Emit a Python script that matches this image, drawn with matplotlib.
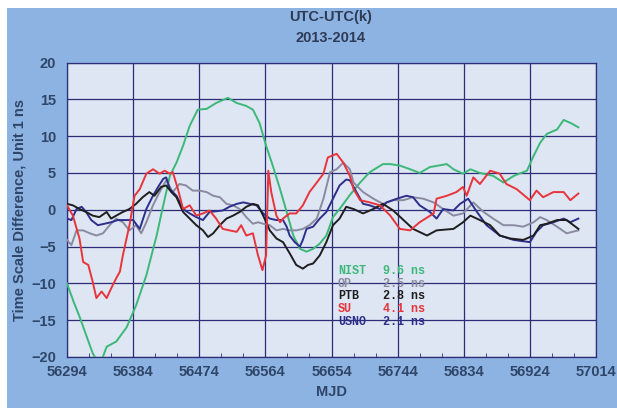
import matplotlib.pyplot as plt
from matplotlib.patches import Rectangle

plt.rcParams['font.family'] = ['Liberation Sans', 'DejaVu Sans']

# data (MJD, ns)
nist_mjd = [56294, 56303, 56311, 56320, 56329, 56335, 56342, 56348, 56361, 56375,
            56388, 56402, 56416, 56425, 56434, 56443, 56452, 56461, 56472, 56484,
            56497, 56513, 56525, 56538, 56547, 56556, 56565, 56574, 56584, 56593,
            56602, 56611, 56620, 56629, 56638, 56647, 56656, 56665, 56679, 56693,
            56706, 56724, 56734, 56747, 56761, 56774, 56788, 56811, 56820, 56833,
            56843, 56856, 56874, 56888, 56902, 56920, 56929, 56938, 56947, 56961,
            56970, 56979, 56990]
nist_val = [-10.0, -12.5, -14.5, -17.0, -19.5, -20.5, -20.2, -18.6, -17.9, -16.0,
            -13.0, -8.9, -3.5, 0.6, 4.6, 6.4, 8.7, 11.4, 13.6, 13.7,
            14.5, 15.2, 14.5, 14.1, 13.6, 11.8, 8.7, 6.0, 2.8, -0.3,
            -3.5, -5.3, -5.7, -5.3, -4.6, -3.5, -1.0, 0.1, 2.0, 3.7,
            5.1, 6.2, 6.2, 6.0, 5.5, 5.0, 5.8, 6.2, 5.5, 4.9,
            5.5, 5.0, 4.6, 3.7, 4.6, 5.3, 7.3, 9.1, 10.3, 10.9,
            12.2, 11.8, 11.2]

op_mjd = [56294, 56300, 56307, 56316, 56325, 56334, 56343, 56352, 56361, 56370,
          56379, 56388, 56395, 56402, 56411, 56420, 56429, 56438, 56447, 56456,
          56465, 56474, 56484, 56493, 56502, 56511, 56520, 56529, 56538, 56547,
          56554, 56561, 56570, 56579, 56588, 56597, 56606, 56615, 56624, 56634,
          56643, 56652, 56661, 56670, 56679, 56684, 56697, 56711, 56724, 56738,
          56752, 56765, 56779, 56793, 56806, 56820, 56833, 56847, 56861, 56874,
          56888, 56902, 56915, 56929, 56938, 56947, 56961, 56974, 56990]
op_val = [-4.1, -4.8, -2.8, -2.8, -3.2, -3.5, -3.2, -2.1, -1.2, -1.7,
          -2.8, -2.1, -3.2, -1.7, 0.6, 2.4, 4.0, 2.4, 3.5, 3.3,
          2.6, 2.6, 2.4, 1.9, 1.7, 0.8, 0.6, 0.1, -1.0, -1.9,
          -1.7, -1.9, -2.1, -2.8, -2.6, -2.8, -2.8, -2.6, -2.1, -1.2,
          1.5, 5.1, 5.5, 6.4, 5.5, 3.7, 2.4, 1.5, 0.8, 1.3,
          1.3, 1.7, 1.5, 1.0, 0.1, -0.8, -0.5, 1.0, -0.3, -1.2,
          -2.1, -2.1, -2.3, -1.7, -1.0, -1.4, -2.3, -3.2, -2.8]

ptb_mjd = [56294, 56302, 56311, 56320, 56329, 56338, 56348, 56354, 56361, 56370,
           56379, 56388, 56397, 56406, 56413, 56422, 56429, 56436, 56443, 56452,
           56461, 56470, 56479, 56486, 56493, 56502, 56511, 56520, 56529, 56538,
           56547, 56554, 56561, 56570, 56579, 56588, 56597, 56606, 56615, 56622,
           56629, 56638, 56647, 56656, 56665, 56674, 56684, 56697, 56711, 56724,
           56738, 56752, 56765, 56784, 56797, 56820, 56833, 56843, 56856, 56870,
           56883, 56897, 56915, 56929, 56938, 56947, 56961, 56974, 56990]
ptb_val = [0.8, 0.6, 0.1, -0.3, -0.8, -1.0, -0.3, -1.2, -0.8, -0.3,
           0.1, 0.8, 1.7, 2.4, 1.9, 3.1, 3.3, 2.4, 1.7, -0.3,
           -1.2, -2.1, -2.8, -3.7, -3.2, -2.1, -1.2, -0.8, -0.3, 0.4,
           0.8, 0.6, -0.8, -2.8, -3.9, -4.4, -5.9, -7.5, -8.0, -7.5,
           -7.3, -6.2, -4.4, -2.1, -1.2, 0.4, 0.1, -0.5, 0.1, 0.8,
           -0.1, -1.4, -2.6, -3.5, -2.8, -2.6, -1.7, -0.8, -1.4, -2.1,
           -3.5, -3.9, -4.1, -3.5, -2.1, -1.9, -1.4, -1.4, -2.6]

su_mjd = [56294, 56302, 56311, 56316, 56323, 56329, 56334, 56341, 56348, 56354,
          56361, 56366, 56370, 56379, 56386, 56393, 56402, 56411, 56420, 56427,
          56434, 56438, 56445, 56452, 56461, 56470, 56479, 56488, 56497, 56506,
          56515, 56525, 56531, 56538, 56547, 56554, 56560, 56565, 56568, 56572,
          56579, 56584, 56588, 56597, 56606, 56615, 56624, 56634, 56643, 56649,
          56661, 56670, 56679, 56684, 56693, 56706, 56720, 56734, 56747, 56761,
          56774, 56793, 56797, 56811, 56824, 56833, 56838, 56847, 56856, 56870,
          56883, 56892, 56906, 56924, 56933, 56942, 56956, 56970, 56979, 56990]
su_val = [0.6, -0.8, -3.9, -7.1, -7.5, -9.8, -12.0, -11.1, -12.0, -10.7,
          -9.3, -8.4, -6.2, -2.1, 1.9, 2.8, 4.9, 5.5, 4.9, 5.3,
          4.9, 5.1, 2.8, 0.1, 0.6, -0.8, -0.5, -0.1, -1.2, -2.6,
          -2.8, -3.0, -2.1, -3.5, -3.2, -6.2, -8.2, -6.2, 5.3, 2.4,
          -0.8, -1.7, -1.2, -0.5, -0.5, 0.6, 2.4, 3.7, 4.9, 7.1,
          7.6, 6.4, 4.6, 2.8, 1.3, 1.0, 0.6, -0.8, -2.6, -2.8,
          -1.7, -0.5, 1.5, 1.9, 2.4, 3.1, 1.9, 4.4, 3.5, 5.3,
          4.9, 3.5, 2.8, 1.3, 2.6, 1.7, 2.4, 2.4, 1.3, 2.2]

usno_mjd = [56294, 56300, 56307, 56314, 56320, 56327, 56336, 56345, 56354, 56363,
            56373, 56384, 56393, 56402, 56411, 56418, 56425, 56429, 56434, 56443,
            56452, 56461, 56470, 56479, 56488, 56497, 56506, 56515, 56525, 56534,
            56543, 56552, 56561, 56570, 56579, 56588, 56593, 56597, 56604, 56611,
            56615, 56620, 56629, 56638, 56647, 56656, 56665, 56674, 56679, 56688,
            56697, 56706, 56720, 56729, 56743, 56756, 56765, 56774, 56788, 56797,
            56806, 56820, 56829, 56840, 56852, 56865, 56883, 56902, 56924, 56933,
            56942, 56956, 56970, 56979, 56990]
usno_val = [-1.2, -1.4, 0.1, 0.4, -0.3, -1.4, -2.1, -1.9, -1.7, -1.4,
            -1.4, -1.4, -2.6, 0.1, 1.9, 3.1, 4.2, 4.4, 2.8, 1.9,
            0.1, -0.5, -1.0, -1.4, -0.3, -0.2, -0.1, 0.4, 0.8, 1.0,
            0.8, 0.6, -0.5, -1.2, -1.4, -1.4, -2.3, -3.5, -4.4, -5.0,
            -4.1, -2.6, -2.3, -1.2, -0.3, 1.5, 3.3, 4.1, 4.0, 2.4,
            0.8, 0.6, 0.1, 1.0, 1.5, 1.9, 1.7, 0.6, -0.3, -1.2,
            0.1, -0.1, 0.8, 1.5, -0.3, -2.1, -3.5, -4.1, -4.4, -3.0,
            -2.1, -1.7, -1.2, -1.7, -1.2]

labels = ['NIST', 'OP', 'PTB', 'SU', 'USNO']
rms = ['9.6 ns', '2.5 ns', '2.8 ns', '4.1 ns', '2.1 ns']
colors = ['#3cb878', '#8a8aa0', '#1e1e1e', '#e8343a', '#2e2e8c']

xticks = list(range(56294, 57015, 90))
xminor = list(range(56294, 57015, 30))
yticks = list(range(-20, 21, 5))

fig = plt.figure(figsize=(6.17, 4.08), dpi=100, facecolor='white')
# blue panel behind everything
fig.patches.append(Rectangle((7 / 617, 0.0), 1.0, 1 - 8 / 408, transform=fig.transFigure,
                             facecolor='#8db3e2', edgecolor='none', zorder=-10))

ax = fig.add_axes([67 / 617, 1 - 357 / 408, (596 - 67) / 617, (357 - 62.5) / 408])
ax.set_facecolor('#dde6f2')

series = [(nist_mjd, nist_val), (op_mjd, op_val), (ptb_mjd, ptb_val),
          (su_mjd, su_val), (usno_mjd, usno_val)]
order = [0, 1, 4, 2, 3]
for i in order:
    x, y = series[i]
    ax.plot(x, y, color=colors[i], lw=1.4, zorder=3)

ax.set_xlim(56294, 57014)
ax.set_ylim(-20, 20)
ax.set_xticks(xticks)
ax.set_xticks(xminor, minor=True)
ax.set_yticks(yticks)
ax.grid(True, which='major', color='#2c2c78', lw=0.9)
ax.set_axisbelow(True)
for s in ax.spines.values():
    s.set_color('#2c2c78')
    s.set_linewidth(0.9)

txt = '#2f4668'
ax.tick_params(axis='both', which='both', direction='in', colors='#2c2c78',
               labelcolor=txt, labelsize=10.5)
ax.tick_params(axis='x', which='major', length=0, pad=6)
ax.tick_params(axis='x', which='minor', length=3)
ax.tick_params(axis='y', length=0, pad=8)
ax.tick_params(left=False, top=False, right=False)
for lab in ax.get_xticklabels() + ax.get_yticklabels():
    lab.set_fontweight('bold')

ax.set_xlabel('MJD', fontsize=10.5, fontweight='bold', color=txt, labelpad=4)
ax.set_ylabel('Time Scale Difference, Unit 1 ns', fontsize=10.5, fontweight='bold',
              color=txt, labelpad=3)
fig.text(331 / 617, 1 - 17 / 408, 'UTC-UTC(k)', ha='center', va='center',
         fontsize=10.5, fontweight='bold', color='#2f3a55')
fig.text(331 / 617, 1 - 38 / 408, '2013-2014', ha='center', va='center',
         fontsize=10.5, fontweight='bold', color='#2f3a55')

# rms table inside the plot
for k in range(5):
    yv = -8.3 - k * 1.72
    ax.text(56663, yv, labels[k], color=colors[k], fontsize=8.5, fontweight='bold',
            family='Liberation Mono', va='center', zorder=4)
    ax.text(56724, yv, rms[k], color=colors[k], fontsize=8.5, fontweight='bold',
            family='Liberation Mono', va='center', zorder=4)

fig.savefig('out.png', dpi=100, facecolor=fig.get_facecolor())
